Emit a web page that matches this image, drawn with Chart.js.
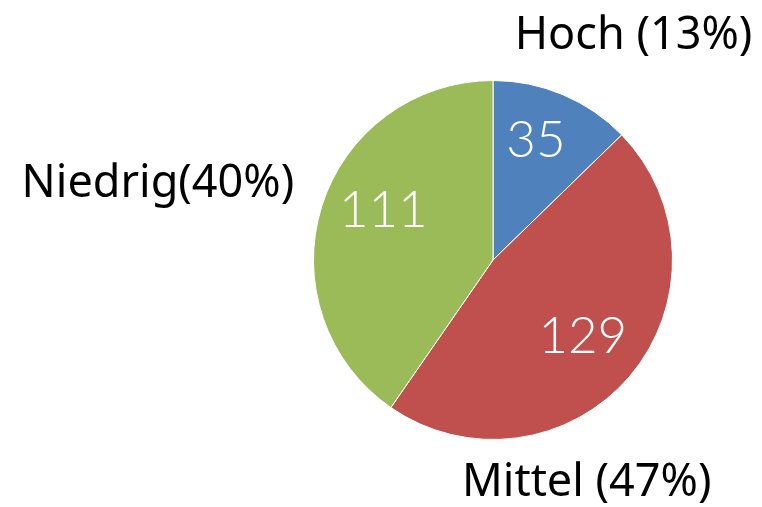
<!DOCTYPE html>
<html>
<head>
<meta charset="utf-8">
<script src="https://cdn.jsdelivr.net/npm/chart.js@4"></script>
<style>
  html, body { margin:0; padding:0; background:#fff; }
  #wrap { width:762px; height:507px; position:relative; }
</style>
</head>
<body>
<div id="wrap"><canvas id="pieChart" width="762" height="507"></canvas></div>
<script>
const categories = ['Hoch', 'Mittel', 'Niedrig'];
const counts = [35, 129, 111];
const outerLabels = ['Hoch (13%)', 'Mittel (47%)', 'Niedrig(40%)'];
const colors = ['#4F81BD', '#C0504D', '#9BBB59'];

// label baselines, relative to the pie centre, in units of the radius
const innerPos = [[0.239, -0.572], [0.50, 0.517], [-0.611, -0.183]];
const outerPos = [[0.783, -1.178], [0.522, 1.317], [-1.867, -0.35]];

const labelPlugin = {
  id: 'sliceLabels',
  afterDatasetsDraw(chart){
    const ctx = chart.ctx;
    const arcs = chart.getDatasetMeta(0).data;
    ctx.save();
    ctx.textAlign = 'center';
    ctx.textBaseline = 'alphabetic';
    arcs.forEach((arc, i) => {
      const r = arc.outerRadius;
      ctx.fillStyle = '#ffffff';
      ctx.font = '300 51px Lato, "Open Sans", sans-serif';
      ctx.fillText(String(counts[i]), arc.x + innerPos[i][0]*r, arc.y + innerPos[i][1]*r);
      ctx.fillStyle = '#000000';
      ctx.font = '45px "Noto Sans", "Open Sans", sans-serif';
      ctx.fillText(outerLabels[i], arc.x + outerPos[i][0]*r, arc.y + outerPos[i][1]*r);
    });
    ctx.restore();
  }
};

new Chart(document.getElementById('pieChart').getContext('2d'), {
  type: 'pie',
  data: {
    labels: categories,
    datasets: [{ data: counts, backgroundColor: colors, borderColor: '#ffffff', borderWidth: 1 }]
  },
  options: {
    responsive: false,
    animation: false,
    layout: { padding: { left: 313, right: 89, top: 80, bottom: 67 } },
    plugins: { legend: { display: false }, tooltip: { enabled: false } }
  },
  plugins: [labelPlugin]
});
</script>
</body>
</html>
